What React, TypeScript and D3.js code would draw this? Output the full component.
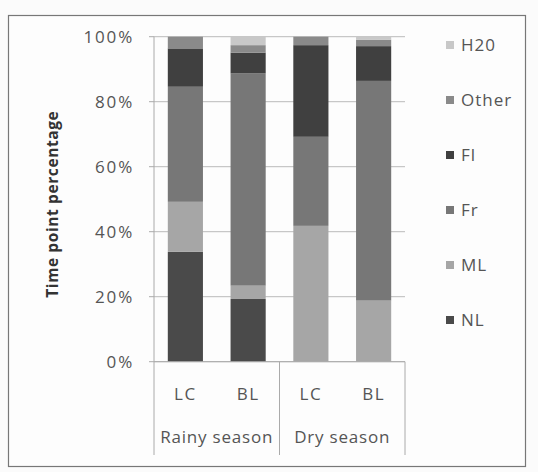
import React from "react";
import * as d3 from "d3";

const bars = ["Rainy LC", "Rainy BL", "Dry LC", "Dry BL"];
const barLabels = ["LC", "BL", "LC", "BL"];
const seasons = ["Rainy season", "Dry season"];
const seriesNames = ["NL", "ML", "Fr", "Fl", "Other", "H20"];
const NL = [33.8, 19.3, 0, 0];
const ML = [15.4, 4.1, 41.8, 18.8];
const Fr = [35.4, 65.3, 27.4, 67.6];
const Fl = [11.8, 6.4, 28.2, 10.7];
const Other = [3.6, 2.3, 2.6, 2.0];
const H20 = [0, 2.6, 0, 0.9];
const yTicks = [0, 20, 40, 60, 80, 100];
const colors = ["#4a4a4a", "#a6a6a6", "#777777", "#404040", "#8a8a8a", "#c8c8c8"];

export default function App() {
  const W = 538, H = 472;
  const left = 154, right = 405, top = 36.7, bottom = 361.7;
  const x = d3.scaleBand<string>().domain(bars).range([left, right]).paddingInner(0.44).paddingOuter(0.22);
  const y = d3.scaleLinear().domain([0, 100]).range([bottom, top]);
  const rows = bars.map((b, i) => ({ bar: b, NL: NL[i], ML: ML[i], Fr: Fr[i], Fl: Fl[i], Other: Other[i], H20: H20[i] }));
  const stack = d3.stack<any>().keys(seriesNames)(rows);
  const font = "'Open Sans', sans-serif";
  const textColor = "#555";
  const groupW = (right - left) / 2;
  return (
    <svg width={W} height={H} style={{ position: "absolute", left: 0, top: 0, background: "#fbfbfb" }} fontFamily={font}>
      <rect x={8.5} y={15.5} width={517} height={451} fill="#fdfdfd" stroke="#777" strokeWidth={1.2} />
      {yTicks.map((t) => (
        <g key={t}>
          <line x1={left} x2={right} y1={y(t)} y2={y(t)} stroke="#bbb" strokeWidth={1} />
          <line x1={left - 5} x2={left} y1={y(t)} y2={y(t)} stroke="#aaa" />
          <text x={134} y={y(t)} dy="0.35em" textAnchor="end" fontSize={17} letterSpacing={1.8} fill={textColor}>{t}%</text>
        </g>
      ))}
      {stack.map((s, si) => (
        <g key={seriesNames[si]} fill={colors[si]}>
          {s.map((d, i) => (
            <rect key={i} x={x(bars[i])} width={x.bandwidth()} y={y(d[1])} height={Math.max(0, y(d[0]) - y(d[1]))} />
          ))}
        </g>
      ))}
      <line x1={left} x2={left} y1={top} y2={455} stroke="#aaa" />
      <line x1={left} x2={right} y1={bottom} y2={bottom} stroke="#aaa" />
      {[1, 2].map((k) => (
        <line key={k} x1={left + groupW * k} x2={left + groupW * k} y1={bottom} y2={455} stroke="#aaa" />
      ))}
      {barLabels.map((l, i) => (
        <text key={i} x={(x(bars[i]) as number) + x.bandwidth() / 2} y={394} dy="0.35em" textAnchor="middle" fontSize={17} letterSpacing={1.5} fill={textColor}>{l}</text>
      ))}
      {seasons.map((s, i) => (
        <text key={s} x={left + groupW * (i + 0.5)} y={437} dy="0.35em" textAnchor="middle" fontSize={17} letterSpacing={0.8} fill={textColor}>{s}</text>
      ))}
      <text transform={`translate(53,${(top + bottom) / 2 + 5}) rotate(-90)`} textAnchor="middle" dy="0.35em" fontSize={15.5} fontWeight="bold" letterSpacing={0.6} fill="#333">Time point percentage</text>
      {seriesNames.slice().reverse().map((n, i) => {
        const ci = seriesNames.length - 1 - i;
        const ly = 45 + i * 55;
        return (
          <g key={n}>
            <rect x={446} y={ly - 4} width={8} height={8} fill={colors[ci]} />
            <text x={461} y={ly} dy="0.35em" fontSize={17} letterSpacing={1} fill={textColor}>{n}</text>
          </g>
        );
      })}
    </svg>
  );
}
